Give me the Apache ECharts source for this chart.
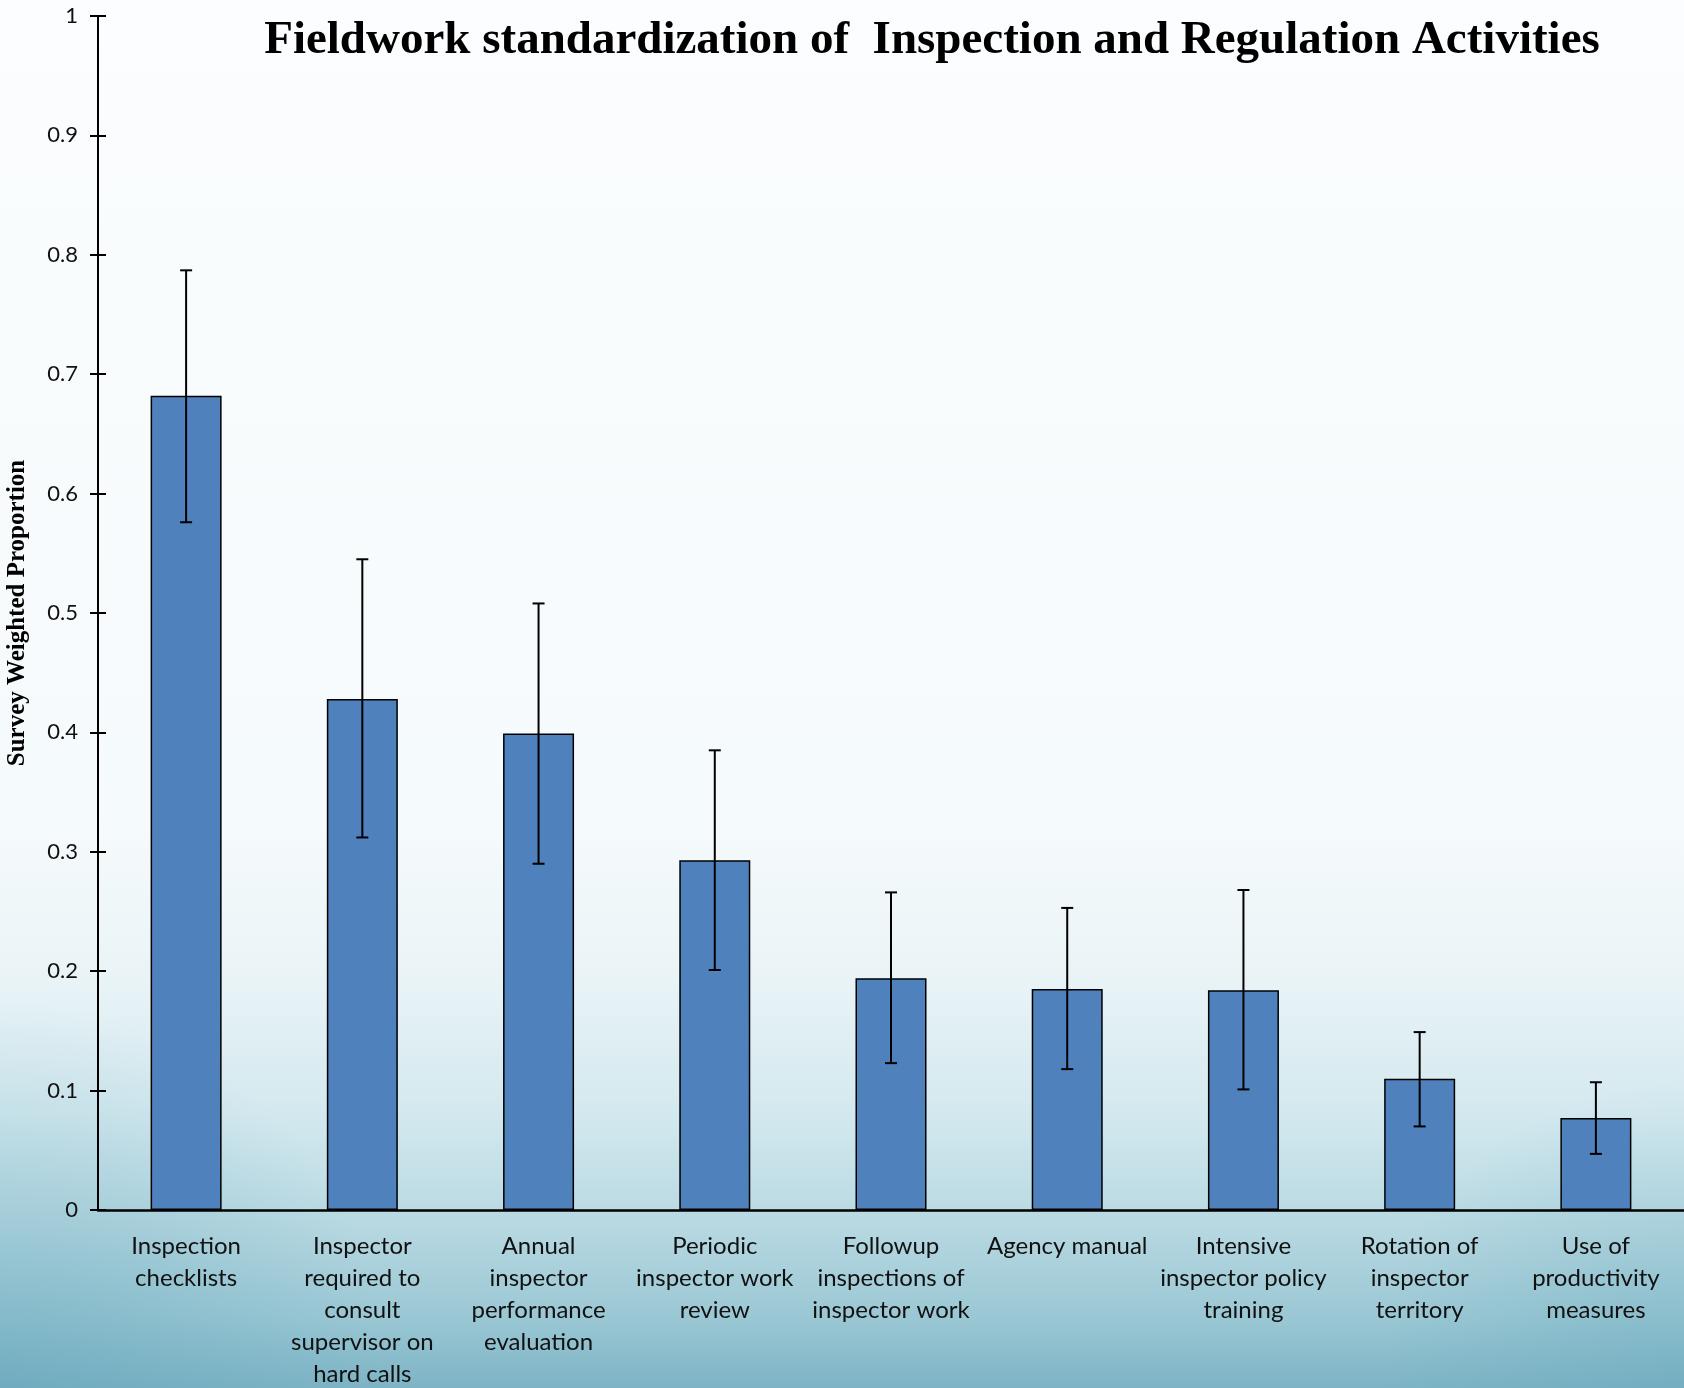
<!DOCTYPE html>
<html>
<head>
<meta charset="utf-8">
<script src="https://cdn.jsdelivr.net/npm/echarts@6/dist/echarts.min.js"></script>
<style>
html,body{margin:0;padding:0;}
#chart{width:1684px;height:1388px;}
</style>
</head>
<body>
<div id="chart"></div>
<script>
const categories = [
  'Inspection\nchecklists',
  'Inspector\nrequired to\nconsult\nsupervisor on\nhard calls',
  'Annual\ninspector\nperformance\nevaluation',
  'Periodic\ninspector work\nreview',
  'Followup\ninspections of\ninspector work',
  'Agency manual',
  'Intensive\ninspector policy\ntraining',
  'Rotation of\ninspector\nterritory',
  'Use of\nproductivity\nmeasures'
];
const proportions = [0.682, 0.428, 0.399, 0.293, 0.194, 0.185, 0.184, 0.110, 0.077];
const errorHigh = [0.787, 0.545, 0.508, 0.385, 0.266, 0.253, 0.268, 0.149, 0.107];
const errorLow  = [0.576, 0.312, 0.290, 0.201, 0.123, 0.118, 0.101, 0.070, 0.047];
const yTicks = [0, 0.1, 0.2, 0.3, 0.4, 0.5, 0.6, 0.7, 0.8, 0.9, 1];

const chart = echarts.init(document.getElementById('chart'));
const errData = categories.map((c, i) => [i, errorLow[i], errorHigh[i]]);

const option = {
  animation: false,
  backgroundColor: {
    type: 'linear', x: 0, y: 0, x2: 0, y2: 1,
    colorStops: [
      {offset: 0, color: '#fbfdfe'},
      {offset: 0.6, color: '#f5fafc'},
      {offset: 0.7, color: '#eaf4f7'},
      {offset: 0.8, color: '#d4e9ef'},
      {offset: 0.88, color: '#b8d9e2'},
      {offset: 0.95, color: '#9ac7d4'},
      {offset: 1, color: '#7db4c5'}
    ]
  },
  graphic: [
    {type: 'rect', silent: true, z: -10,
     shape: {x: 0, y: 1000, width: 900, height: 388},
     style: {fill: {type: 'radial', x: 0, y: 1, r: 1,
       colorStops: [{offset: 0, color: 'rgba(90,160,182,0.4)'}, {offset: 1, color: 'rgba(90,160,182,0)'}]}}},
    {type: 'rect', silent: true, z: -10,
     shape: {x: 1184, y: 1080, width: 500, height: 308},
     style: {fill: {type: 'radial', x: 1, y: 1, r: 1,
       colorStops: [{offset: 0, color: 'rgba(90,160,182,0.3)'}, {offset: 1, color: 'rgba(90,160,182,0)'}]}}}
  ],
  title: {
    text: 'Fieldwork standardization of  Inspection and Regulation Activities',
    left: 927, top: 12, textAlign: 'center',
    textStyle: {fontFamily: 'Liberation Serif', fontWeight: 'bold', fontSize: 47, color: '#000'}
  },
  grid: {left: 98, right: 0, top: 16, bottom: 178, containLabel: false, outerBoundsMode: 'none'},
  xAxis: {
    type: 'category',
    data: categories,
    axisLine: {lineStyle: {color: '#000', width: 2.5}},
    axisTick: {show: false},
    axisLabel: {
      interval: 0, margin: 20, color: '#111',
      fontFamily: 'Lato', fontSize: 24, lineHeight: 32
    }
  },
  yAxis: [{
    type: 'value', min: 0, max: 1, interval: 0.1,
    name: 'Survey Weighted Proportion',
    nameLocation: 'middle', nameGap: 68, nameRotate: 90,
    nameTextStyle: {fontFamily: 'Liberation Serif', fontWeight: 'bold', fontSize: 25, color: '#000'},
    axisLine: {show: true, lineStyle: {color: '#000', width: 2}},
    axisTick: {show: true, length: 8, lineStyle: {color: '#000', width: 2}},
    axisLabel: {color: '#111', fontFamily: 'Lato', fontSize: 22, margin: 20,
      formatter: v => yTicks.includes(Math.round(v*10)/10) ? String(Math.round(v*10)/10) : ''},
    splitLine: {show: false}
  }, {
    type: 'value', min: 0, max: 1, interval: 0.1, position: 'left',
    axisLine: {show: false},
    axisTick: {show: true, inside: true, length: 8, lineStyle: {color: '#000', width: 2}},
    axisLabel: {show: false},
    splitLine: {show: false}
  }],
  series: [{
    type: 'bar',
    data: proportions,
    barWidth: 71,
    itemStyle: {color: '#4f81bd', borderColor: '#000', borderWidth: 1.5},
    z: 2
  }, {
    type: 'custom',
    data: errData,
    z: 5,
    renderItem: function (params, api) {
      const x = api.value(0);
      const lo = api.coord([x, api.value(1)]);
      const hi = api.coord([x, api.value(2)]);
      const hw = 6;
      const st = {stroke: '#000', lineWidth: 2};
      return {
        type: 'group',
        children: [
          {type: 'line', shape: {x1: hi[0], y1: hi[1], x2: lo[0], y2: lo[1]}, style: st},
          {type: 'line', shape: {x1: hi[0]-hw, y1: hi[1], x2: hi[0]+hw, y2: hi[1]}, style: st},
          {type: 'line', shape: {x1: lo[0]-hw, y1: lo[1], x2: lo[0]+hw, y2: lo[1]}, style: st}
        ]
      };
    }
  }]
};
chart.setOption(option);
</script>
</body>
</html>
